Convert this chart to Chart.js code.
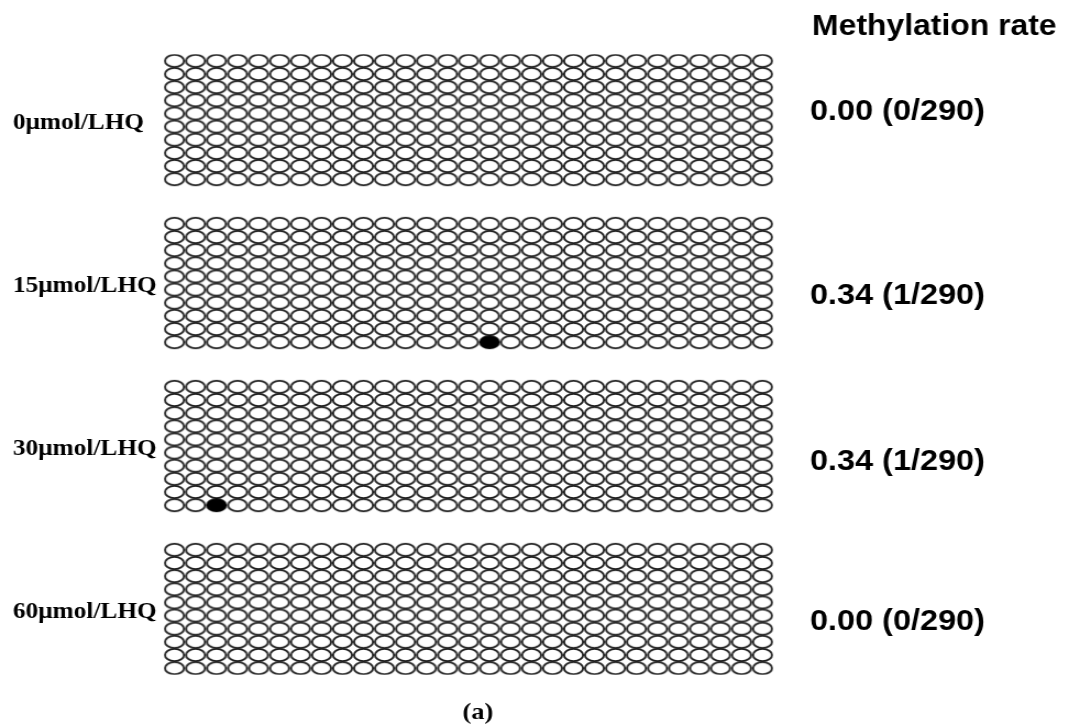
<!DOCTYPE html>
<html><head><meta charset="utf-8">
<script src="https://cdn.jsdelivr.net/npm/chart.js@4/dist/chart.umd.min.js"></script>
<style>
html,body{margin:0;padding:0;background:#fff;overflow:hidden;width:1080px;height:726px;}
#wrap{position:absolute;left:0;top:0;width:982px;height:726px;transform:scaleX(1.0998);transform-origin:0 0;}
</style></head><body>
<div id="wrap"><canvas id="c"></canvas></div>
<script>
// ---- data ----
const groupLabels = ['0μmol/LHQ', '15μmol/LHQ', '30μmol/LHQ', '60μmol/LHQ'];
const rateLabels = ['0.00 (0/290)', '0.34 (1/290)', '0.34 (1/290)', '0.00 (0/290)'];
const cloneCount = 10;   // rows (clones) per group
const siteCount = 29;    // CpG sites per clone
// methylated CpG sites per group: [clone, site], 1-based
const methylatedSites = [[], [[10, 16]], [[10, 3]], []];

// ---- layout helpers (not data) ----
const GROUP_STEP = 12.4;             // row units between group starts
const leftNudge = 0.2;
const rightNudge = [-0.65, 0.95, 1.2, 1.0];
const groupCenter = g => g * GROUP_STEP + (cloneCount - 1) / 2;

const openPts = [], filledPts = [];
groupLabels.forEach((_, g) => {
  const meth = new Set(methylatedSites[g].map(([r, s]) => (r - 1) + '_' + (s - 1)));
  for (let r = 0; r < cloneCount; r++) {
    for (let s = 0; s < siteCount; s++) {
      const p = {x: s, y: g * GROUP_STEP + r};
      (meth.has(r + '_' + s) ? filledPts : openPts).push(p);
    }
  }
});

function ellipseImg(filled) {
  const c = document.createElement('canvas');
  c.width = 21; c.height = 16;
  const x = c.getContext('2d');
  x.beginPath();
  x.ellipse(10.5, 8, 8.7, 6.1, 0, 0, Math.PI * 2);
  x.fillStyle = filled ? '#000' : '#fff';
  x.fill();
  x.lineWidth = 1.9;
  x.strokeStyle = filled ? '#000' : '#1e1e1e';
  x.stroke();
  return c;
}

const yMin = -0.5, yMax = 3 * GROUP_STEP + cloneCount - 0.5;
const S = 1.0998;
const LEFT_W = 164 / S - 13 / S;
const RIGHT_W = 982 - 773 / S;

const textPlugin = {
  id: 'extraText',
  afterDraw(chart) {
    const {ctx, chartArea: a} = chart;
    ctx.save();
    ctx.fillStyle = '#000';
    ctx.textAlign = 'left';
    ctx.textBaseline = 'alphabetic';
    ctx.font = 'bold 29px "Liberation Sans", Arial, sans-serif';
    ctx.fillText('Methylation rate', a.right + 35.5, 35);
    ctx.font = 'bold 24px "Liberation Serif", "Times New Roman", serif';
    ctx.textAlign = 'center';
    ctx.fillText('(a)', (a.left + a.right) / 2 + 8.6, 719);
    ctx.restore();
  }
};

new Chart(document.getElementById('c'), {
  type: 'scatter',
  data: {
    datasets: [
      {label: 'Unmethylated', data: openPts, pointStyle: ellipseImg(false), yAxisID: 'y', order: 2},
      {label: 'Methylated', data: filledPts, pointStyle: ellipseImg(true), yAxisID: 'y', order: 1}
    ]
  },
  options: {
    responsive: true,
    maintainAspectRatio: false,
    animation: false,
    events: [],
    layout: {padding: {left: 13 / S, right: 0, top: 54.3, bottom: 42.3}},
    plugins: {legend: {display: false}, tooltip: {enabled: false}, title: {display: false}},
    scales: {
      x: {type: 'linear', display: false, min: -0.5, max: siteCount - 0.5},
      y: {
        type: 'linear', position: 'left', reverse: true, min: yMin, max: yMax,
        grid: {display: false, drawTicks: false}, border: {display: false},
        afterBuildTicks: sc => { sc.ticks = groupLabels.map((_, g) => ({value: groupCenter(g) + leftNudge})); },
        afterFit: sc => { sc.width = LEFT_W; },
        ticks: {
          autoSkip: false, crossAlign: 'far', padding: 0, color: '#000',
          font: {family: '"Liberation Serif", "Times New Roman", serif', weight: 'bold', size: 23},
          callback: (v, i) => groupLabels[i]
        }
      },
      yR: {
        type: 'linear', position: 'right', reverse: true, min: yMin, max: yMax,
        grid: {display: false, drawTicks: false}, border: {display: false},
        afterBuildTicks: sc => { sc.ticks = rateLabels.map((_, g) => ({value: groupCenter(g) + rightNudge[g]})); },
        afterFit: sc => { sc.width = RIGHT_W; },
        ticks: {
          autoSkip: false, crossAlign: 'near', padding: 33.6, color: '#000',
          font: {family: '"Liberation Sans", Arial, sans-serif', weight: 'bold', size: 29.5},
          callback: (v, i) => rateLabels[i]
        }
      }
    }
  },
  plugins: [textPlugin]
});
</script>
</body></html>
